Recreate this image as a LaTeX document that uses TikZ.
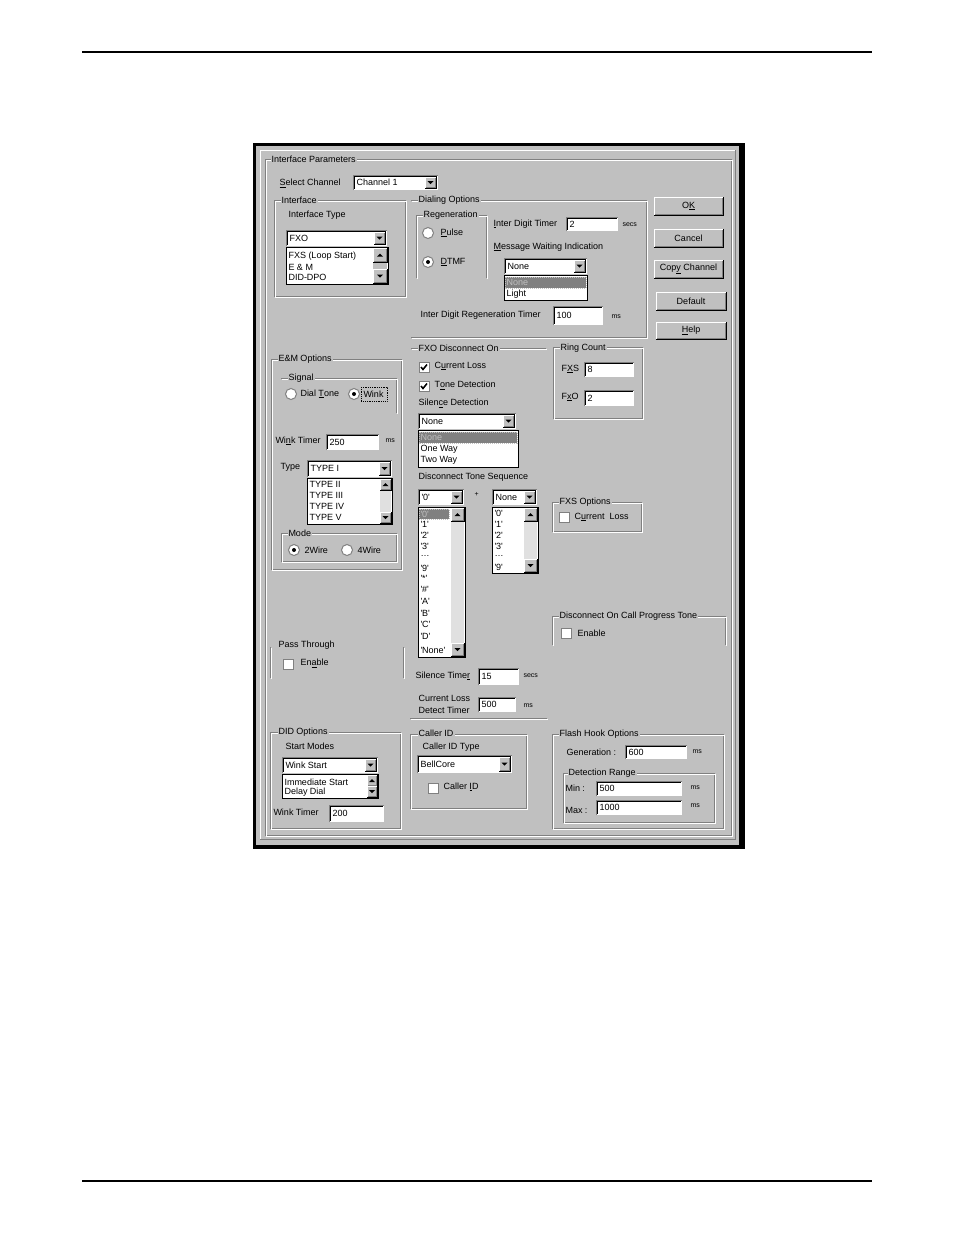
\documentclass[tikz,border=0pt]{standalone}
\usepackage{fontspec}
\setmainfont{Liberation Sans}
\definecolor{dlg}{HTML}{C0C0C0}
\definecolor{btnshadow}{HTML}{808080}
\definecolor{dither}{HTML}{E0E0E0}
\newcommand{\etch}[1]{\draw[btnshadow] #1; \draw[white,xshift=1pt,yshift=-1pt] #1;}
\newcommand{\raised}[4]{\fill[dlg] (#1,#2) rectangle (#3,#4);
  \draw[white] (#1,#4) -- (#1,#2) -- (#3,#2);
  \draw[black] (#1,#4) -- (#3,#4) -- (#3,#2);
  \draw[btnshadow] ({#1+1},{#4-1}) -- ({#3-1},{#4-1}) -- ({#3-1},{#2+1});}
\newcommand{\downbtn}[4]{\raised{#1}{#2}{#3}{#4}
  \fill ({(#1+#3)/2-3},{(#2+#4)/2-1.5}) -- ({(#1+#3)/2+3},{(#2+#4)/2-1.5}) -- ({(#1+#3)/2},{(#2+#4)/2+1.5}) -- cycle;}
\newcommand{\upbtn}[4]{\raised{#1}{#2}{#3}{#4}
  \fill ({(#1+#3)/2-3},{(#2+#4)/2+1.5}) -- ({(#1+#3)/2+3},{(#2+#4)/2+1.5}) -- ({(#1+#3)/2},{(#2+#4)/2-1.5}) -- cycle;}
\newcommand{\fieldbox}[6]{\fill[white] (#2,#3) rectangle (#4,#5);
  \draw[btnshadow] (#2,#5) -- (#2,#3) -- (#4,#3);
  \draw[black] ({#2+1},{#5-1}) -- ({#2+1},{#3+1}) -- ({#4-1},{#3+1});
  \node[txt] (#1) at ({#2+3},{(#3+#5)/2}) {#6};}
\newcommand{\combobox}[6]{\fieldbox{#1}{#2}{#3}{#4}{#5}{#6}\downbtn{#4-13}{#3+2}{#4-2}{#5-2}}
\newcommand{\droplist}[4]{\fill[white] (#1,#2) rectangle (#3,#4); \draw[black] (#1,#2) rectangle (#3,#4);}
\newcommand{\scrollbar}[5]{\fill[#5] (#1,#2) rectangle (#3,#4);
  \upbtn{#1}{#2}{#3}{#2+#3-#1}\downbtn{#1}{#4-#3+#1}{#3}{#4}}
\newcommand{\hilite}[6]{\fill[btnshadow] (#2,#3) rectangle (#4,#5);
  \draw[dlg,densely dotted] (#2,#3) rectangle (#4,#5);
  \node[txt,text=dlg] (#1) at ({#2+1},{(#3+#5)/2}) {#6};}
\newcommand{\pushbtn}[6]{\raised{#2}{#3}{#4}{#5}
  \node[txt,anchor=center] (#1) at ({(#2+#4)/2},{(#3+#5)/2}) {#6};}
\newcommand{\checkmk}[1]{\draw[line width=1.5pt] ([shift={(-3,0)}]#1.center) -- ++(2,2.5) -- ++(4,-5);}
\newcommand{\q}[1]{\textquotesingle#1\textquotesingle}
\begin{document}
\begin{tikzpicture}[x=1pt,y=-1pt,line width=1pt,
  txt/.style={anchor=west,inner sep=0pt,font=\fontsize{9}{10}\selectfont},
  sm/.style={txt,font=\fontsize{7}{8}\selectfont},
  grp/.style={txt,fill=dlg,inner xsep=1pt,inner ysep=1pt},
  radio/.style={circle,draw=btnshadow,fill=white,minimum size=11pt,inner sep=0pt},
  chk/.style={rectangle,draw=btnshadow,fill=white,minimum size=10pt,inner sep=0pt}]
\useasboundingbox (0,0) rectangle (954,1235);
\fill[white] (0,0) rectangle (954,1235);
\draw[line width=1.2pt] (82,52) -- (872,52);
\draw[line width=1.2pt] (82,1181) -- (872,1181);

\fill[black] (253,143) rectangle (745,849);
\fill[dlg] (256,146) rectangle (739,845);
\draw[white] (260,839) -- (260,150) -- (735,150);
\draw[btnshadow] (260,839) -- (735,839) -- (735,150);
\etch{(265,159) rectangle (731,835)}
\node[grp] (ipar) at (270,159) {Interface Parameters};
\node[txt] (selch) at (279,183) {\underline{S}elect Channel};
\combobox{chan}{353}{175}{438}{190}{Channel 1}

\etch{(274,200) rectangle (405,296)}
\node[grp] (iface) at (280,200) {Interface};
\node[txt] (itype) at (288,215) {Interface Type};
\combobox{fxo}{286}{230}{387}{246}{FXO}
\droplist{286}{247}{388}{284}
\scrollbar{373}{248}{387}{283}{dlg}
\node[txt] (tfxs) at (288,256) {FXS (Loop Start)};
\node[txt] (tem) at (288,267) {E \& M};
\node[txt] (tdid) at (288,277) {DID-DPO};

\etch{(411,200) -- (646,200) -- (646,337) -- (411,337)}
\node[grp] (dial) at (417,200) {Dialing Options};
\etch{(416,278) -- (416,215) -- (486,215) -- (486,278)}
\node[grp] (regen) at (422,215) {Regeneration};
\node[radio] (pulse) at (428,233) {};
\node[txt] (tpulse) at (440,233) {\underline{P}ulse};
\node[radio] (dtmf) at (428,262) {};
\fill (dtmf) circle (2pt);
\node[txt] (tdtmf) at (440,262) {\underline{D}TMF};
\node[txt] (idt) at (493,224) {\underline{I}nter Digit Timer};
\fieldbox{idtv}{566}{217}{618}{231}{2}
\node[sm] (secs1) at (622,225) {secs};
\node[txt] (mwi) at (493,247) {\underline{M}essage Waiting Indication};
\combobox{mwiv}{504}{258}{587}{274}{None}
\droplist{504}{275}{587}{300}
\hilite{mwin}{505}{277}{586}{288}{None}
\node[txt] (light) at (506,294) {Light};
\node[txt] (idrt) at (420,315) {Inter Digit Regeneration Timer};
\fieldbox{idrtv}{553}{306}{603}{325}{100}
\node[sm] (ms1) at (611,317) {ms};

\pushbtn{ok}{654}{197}{723}{215}{O\underline{K}}
\pushbtn{cancel}{654}{229}{723}{247}{Cancel}
\pushbtn{copy}{654}{260}{723}{278}{Cop\underline{y} Channel}
\pushbtn{default}{656}{292}{726}{310}{Default}
\pushbtn{help}{656}{322}{726}{339}{\underline{H}elp}

\etch{(271,359) rectangle (401,569)}
\node[grp] (em) at (277,359) {E\&M Options};
\etch{(281,378) -- (396,378) -- (396,413)}
\node[grp] (signal) at (287,378) {Signal};
\node[radio] (dialtone) at (291,394) {};
\node[txt] (tdialtone) at (300,394) {Dial \underline{T}one};
\node[radio] (wink) at (354,394) {};
\fill (wink) circle (2pt);
\node[txt] (twink) at (363,394) {Wink};
\draw[densely dotted,line width=0.8pt] (361,387) rectangle (387,401);
\node[txt] (wt1) at (275,441) {Wi\underline{n}k Timer};
\fieldbox{wt1v}{326}{434}{379}{450}{250}
\node[sm] (ms2) at (385,441) {ms};
\node[txt] (type) at (280,467) {Type};
\combobox{typev}{307}{460}{392}{477}{TYPE I}
\droplist{307}{478}{392}{524}
\scrollbar{380}{479}{391}{523}{dither}
\node[txt] (t2) at (309,484) {TYPE II};
\node[txt] (t3) at (309,495) {TYPE III};
\node[txt] (t4) at (309,506) {TYPE IV};
\node[txt] (t5) at (309,517) {TYPE V};
\etch{(281,533) rectangle (396,561)}
\node[grp] (mode) at (287,533) {Mode};
\node[radio] (w2) at (294,550) {};
\fill (w2) circle (2pt);
\node[txt] (tw2) at (304,550) {2Wire};
\node[radio] (w4) at (347,550) {};
\node[txt] (tw4) at (357,550) {4Wire};

\etch{(270,647) -- (270,678)}
\etch{(403,647) -- (403,678)}
\node[txt] (pass) at (278,645) {Pass Through};
\node[chk] (passen) at (288.5,664) {};
\node[txt] (tpassen) at (300,663) {En\underline{a}ble};

\etch{(270,732) rectangle (400,828)}
\node[grp] (did) at (277,732) {DID Options};
\node[txt] (smodes) at (285,746) {Start Modes};
\combobox{smv}{282}{757}{378}{773}{Wink Start}
\droplist{282}{774}{378}{798}
\upbtn{367}{775}{377}{786}
\downbtn{367}{786}{377}{797}
\node[txt] (imm) at (284,782) {Immediate Start};
\node[txt] (delay) at (284,792) {Delay Dial};
\node[txt] (wt2) at (273,812) {Wink Timer};
\fieldbox{wt2v}{329}{805}{384}{822}{200}

\etch{(411,348) -- (546,348)}
\etch{(410,718) -- (547,718)}
\node[grp] (fxodis) at (417,348) {FXO Disconnect On};
\node[chk] (cl) at (424,367) {};
\checkmk{cl}
\node[txt] (tcl) at (434,366) {C\underline{u}rrent Loss};
\node[chk] (td) at (424,386) {};
\checkmk{td}
\node[txt] (ttd) at (434,385) {T\underline{o}ne Detection};
\node[txt] (sild) at (418,403) {Silen\underline{c}e Detection};
\combobox{sdv}{418}{413}{516}{429}{None}
\droplist{418}{430}{518}{467}
\hilite{sdn}{419}{432}{517}{443}{None}
\node[txt] (oneway) at (420,449) {One Way};
\node[txt] (twoway) at (420,460) {Two Way};
\node[txt] (dts) at (418,477) {Disconnect Tone Sequence};
\combobox{dtsa}{418}{489}{464}{505}{\q{0}}
\node[sm] (plus) at (474,494) {+};
\combobox{dtsb}{492}{489}{537}{505}{None}
\droplist{418}{507}{465}{657}
\scrollbar{451}{508}{464}{656}{dither}
\hilite{da0}{419}{509}{449}{519}{\q{0}}
\foreach \t/\y/\n in {1/524/da1,2/535/da2,3/546/da3,9/568/da9,*/578/dastar,\#/589/dahash,A/601/daA,B/613/daB,C/624/daC,D/636/daD,None/650/danone}
  \node[txt] (\n) at (420,\y) {\q{\t}};
\node[txt] (dadots) at (420,556) {\ldots};
\droplist{492}{507}{538}{573}
\scrollbar{524}{508}{537}{572}{dither}
\foreach \t/\y/\n in {0/513/db0,1/524/db1,2/535/db2,3/546/db3,9/567/db9}
  \node[txt] (\n) at (494,\y) {\q{\t}};
\node[txt] (dbdots) at (494,556) {\ldots};

\etch{(553,347) rectangle (642,418)}
\node[grp] (ring) at (559,348) {Ring Count};
\node[txt] (fxs) at (561,369) {F\underline{X}S};
\fieldbox{fxsv}{584}{362}{634}{377}{8}
\node[txt] (fxo2) at (561,397) {F\underline{x}O};
\fieldbox{fxov}{584}{390}{634}{406}{2}

\etch{(552,502) rectangle (641,531)}
\node[grp] (fxsopt) at (558,502) {FXS Options};
\node[chk] (fxscl) at (564,517.5) {};
\node[txt] (tfxscl) at (574,517) {C\underline{u}rrent\ \ Loss};

\etch{(552,645) -- (552,616) -- (725,616) -- (725,645)}
\node[grp] (docpt) at (558,616) {Disconnect On Call Progress Tone};
\node[chk] (docen) at (566.5,633) {};
\node[txt] (tdocen) at (577,633) {Enable};

\node[txt] (silt) at (415,676) {Silence Time\underline{r}};
\fieldbox{siltv}{478}{668}{519}{685}{15}
\node[sm] (secs2) at (523,676) {secs};
\node[txt] (cldta) at (418,698) {Current Loss};
\node[txt] (cldtb) at (418,710) {Detect Timer};
\fieldbox{cldtv}{478}{697}{516}{712}{500}
\node[sm] (ms3) at (523,706) {ms};

\etch{(410,734) rectangle (526,808)}
\node[grp] (cid) at (417,733) {Caller ID};
\node[txt] (cidt) at (422,747) {Caller ID Type};
\combobox{cidv}{417}{755}{512}{773}{BellCore}
\node[chk] (cidc) at (433.5,788) {};
\node[txt] (tcidc) at (443,787) {Caller \underline{I}D};

\etch{(552,734) rectangle (723,828)}
\node[grp] (flash) at (558,734) {Flash Hook Options};
\node[txt] (gen) at (566,752) {Generation :};
\fieldbox{genv}{625}{745}{687}{759}{600}
\node[sm] (ms4) at (692,752) {ms};
\etch{(563,773) rectangle (714,822)}
\node[grp] (drange) at (567,773) {Detection Range};
\node[txt] (min) at (565,788) {Min :};
\fieldbox{minv}{596}{781}{682}{796}{500}
\node[sm] (ms5) at (690,788) {ms};
\node[txt] (max) at (565,810) {Max :};
\fieldbox{maxv}{596}{800}{682}{815}{1000}
\node[sm] (ms6) at (690,806) {ms};
\end{tikzpicture}
\end{document}
